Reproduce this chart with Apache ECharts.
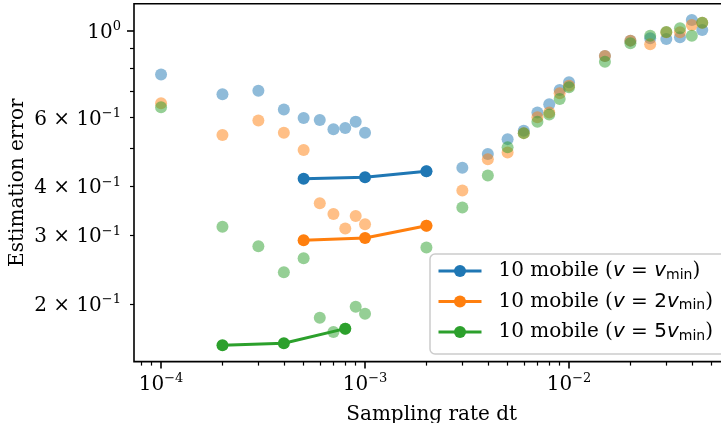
<!DOCTYPE html>
<html>
<head>
<meta charset="utf-8">
<script src="https://cdn.jsdelivr.net/npm/echarts@6/dist/echarts.min.js"></script>
<style>
html, body { margin: 0; padding: 0; background: #fff; }
#chart { width: 721px; height: 423px; }
</style>
</head>
<body>
<div id="chart"></div>
<script>
// sampling rates of the faint scatter points
var dtLight = [1e-4, 2e-4, 3e-4, 4e-4, 5e-4, 6e-4, 7e-4, 8e-4, 9e-4, 1e-3,
  2e-3, 3e-3, 4e-3, 5e-3, 6e-3, 7e-3, 8e-3, 9e-3, 1e-2,
  1.5e-2, 2e-2, 2.5e-2, 3e-2, 3.5e-2, 4e-2, 4.5e-2];
var errLightV1 = [0.772, 0.688, 0.702, 0.629, 0.598, 0.591, 0.560, 0.564, 0.585, 0.548,
  0.437, 0.446, 0.484, 0.528, 0.555, 0.618, 0.648, 0.705, 0.738,
  0.862, 0.943, 0.956, 0.952, 0.962, 1.065, 1.004];
var errLightV2 = [0.652, 0.541, 0.589, 0.548, 0.495, 0.362, 0.340, 0.312, 0.336, 0.320,
  0.317, 0.390, 0.469, 0.488, 0.547, 0.601, 0.618, 0.692, 0.723,
  0.862, 0.943, 0.923, 0.991, 0.991, 1.034, 1.048];
var errLightV5 = [0.637, 0.315, 0.281, 0.241, 0.262, 0.1845, 0.1696, 0.173, 0.1968, 0.1889,
  0.279, 0.353, 0.426, 0.503, 0.547, 0.585, 0.610, 0.669, 0.717,
  0.833, 0.929, 0.971, 0.992, 1.014, 0.971, 1.048];

// the three highlighted runs
var dtV1 = [5e-4, 1e-3, 2e-3];
var errV1 = [0.418, 0.422, 0.437];
var dtV2 = [5e-4, 1e-3, 2e-3];
var errV2 = [0.291, 0.295, 0.317];
var dtV5 = [2e-4, 4e-4, 8e-4];
var errV5 = [0.1568, 0.1587, 0.173];

var seriesNames = ['10 mobile (v = vmin)', '10 mobile (v = 2vmin)', '10 mobile (v = 5vmin)'];
var seriesFactor = ['', '2', '5'];
var colors = ['#1f77b4', '#ff7f0e', '#2ca02c'];

// tick labels
var xTickVals = [1e-4, 1e-3, 1e-2];
var xTickExp = ['\u22124', '\u22123', '\u22122'];
var yTickVals = [1, 0.6, 0.4, 0.3, 0.2];
var yTickMant = ['', '6', '4', '3', '2'];
var yTickExp = ['0', '\u22121', '\u22121', '\u22121', '\u22121'];

function pts(xs, ys) {
  return xs.map(function (x, i) { return [Math.log10(x), Math.log10(ys[i])]; });
}
function range(vals) {
  var lo = Math.min.apply(null, vals), hi = Math.max.apply(null, vals);
  var pad = (hi - lo) * 0.05;
  return [lo - pad, hi + pad];
}
function minorTicks(lo, hi) {
  var out = [];
  for (var n = -6; n <= 1; n++) {
    for (var k = 2; k <= 9; k++) {
      var v = Math.log10(k) + n;
      if (v >= lo && v <= hi) out.push(v);
    }
  }
  return out;
}
function near(v, arr) {
  for (var i = 0; i < arr.length; i++) {
    if (Math.abs(Math.log10(arr[i]) - v) < 1e-6) return i;
  }
  return -1;
}

var allX = dtLight.concat(dtV1, dtV2, dtV5).map(Math.log10);
var allY = errLightV1.concat(errLightV2, errLightV5, errV1, errV2, errV5).map(Math.log10);
var xr = range(allX), yr = range(allY);

var serif = 'DejaVu Serif';
var sans = 'DejaVu Sans';
var tickRich = {
  b: { fontFamily: serif, fontSize: 20, color: '#000', padding: [4, 0, 0, 0] },
  e: { fontFamily: serif, fontSize: 13, color: '#000', padding: [0, 0, 8, 0] }
};
var legendRich = {
  a: { fontFamily: serif, fontSize: 20, color: '#000', lineHeight: 20 },
  v: { fontFamily: sans, fontStyle: 'italic', fontSize: 20, color: '#000', lineHeight: 20 },
  m: { fontFamily: sans, fontSize: 20, color: '#000', lineHeight: 20 },
  s: { fontFamily: sans, fontSize: 14, color: '#000', padding: [8, 0, 0, 0] }
};

var lightData = [errLightV1, errLightV2, errLightV5];
var darkX = [dtV1, dtV2, dtV5];
var darkY = [errV1, errV2, errV5];

var series = [];
lightData.forEach(function (ys, i) {
  series.push({
    type: 'scatter',
    name: 'runs ' + i,
    data: pts(dtLight, ys),
    symbol: 'circle',
    symbolSize: 12,
    itemStyle: { color: colors[i], opacity: 0.5 },
    silent: true,
    z: 2
  });
});
darkX.forEach(function (xs, i) {
  series.push({
    type: 'line',
    name: seriesNames[i],
    data: pts(xs, darkY[i]),
    symbol: 'circle',
    symbolSize: 12,
    showSymbol: true,
    lineStyle: { width: 3, color: colors[i] },
    itemStyle: { color: colors[i], opacity: 1 },
    silent: true,
    z: 3
  });
});

var chart = echarts.init(document.getElementById('chart'));
chart.setOption({
  animation: false,
  backgroundColor: '#fff',
  grid: {
    left: 134, top: 3.7, width: 595.3, height: 357.9,
    containLabel: false, outerBoundsMode: 'none',
    show: true, borderColor: '#000', borderWidth: 1.6, backgroundColor: 'transparent'
  },
  xAxis: [{
    type: 'value', min: xr[0], max: xr[1], position: 'bottom',
    name: 'Sampling rate dt', nameLocation: 'middle', nameGap: 43,
    nameTextStyle: { fontFamily: serif, fontSize: 20, color: '#000' },
    axisLine: { show: false, onZero: false },
    splitLine: { show: false },
    axisTick: { show: true, length: 7, lineStyle: { color: '#000', width: 1.6 },
      customValues: xTickVals.map(Math.log10) },
    axisLabel: {
      margin: 9, customValues: xTickVals.map(Math.log10), rich: tickRich,
      formatter: function (v) {
        var i = near(v, xTickVals);
        return i < 0 ? '' : '{b|10}{e|' + xTickExp[i] + '}';
      }
    }
  }, {
    type: 'value', min: xr[0], max: xr[1], position: 'bottom',
    axisLine: { show: false, onZero: false }, splitLine: { show: false },
    axisLabel: { show: false },
    axisTick: { show: true, length: 4, lineStyle: { color: '#000', width: 1.2 },
      customValues: minorTicks(xr[0], xr[1]) }
  }],
  yAxis: [{
    type: 'value', min: yr[0], max: yr[1], position: 'left',
    name: 'Estimation error', nameLocation: 'middle', nameGap: 106, nameRotate: 90,
    nameMoveOverlap: false,
    nameTextStyle: { fontFamily: serif, fontSize: 20, color: '#000' },
    axisLine: { show: false, onZero: false },
    splitLine: { show: false },
    axisTick: { show: true, length: 7, lineStyle: { color: '#000', width: 1.6 },
      customValues: [0] },
    axisLabel: {
      margin: 13, customValues: yTickVals.map(Math.log10), rich: tickRich,
      formatter: function (v) {
        var i = near(v, yTickVals);
        if (i < 0) return '';
        var m = yTickMant[i] ? yTickMant[i] + ' \u00d7 ' : '';
        return '{b|' + m + '10}{e|' + yTickExp[i] + '}';
      }
    }
  }, {
    type: 'value', min: yr[0], max: yr[1], position: 'left',
    axisLine: { show: false, onZero: false }, splitLine: { show: false },
    axisLabel: { show: false },
    axisTick: { show: true, length: 4, lineStyle: { color: '#000', width: 1.2 },
      customValues: minorTicks(yr[0], yr[1]) }
  }],
  legend: {
    data: seriesNames,
    orient: 'vertical',
    left: 430, top: 254,
    itemWidth: 43, itemHeight: 15, itemGap: 9.5,
    padding: [7, 14, 11, 7],
    backgroundColor: 'rgba(255,255,255,0.8)',
    borderColor: '#cccccc', borderWidth: 1.5, borderRadius: 5,
    lineStyle: { width: 3 },
    textStyle: { padding: [0, 0, 0, 12], rich: legendRich },
    formatter: function (name) {
      var i = seriesNames.indexOf(name);
      return '{a|10 mobile (}{v|v}{m| = ' + seriesFactor[i] + '}{v|v}{s|min}{a|)}';
    }
  },
  series: series
});
</script>
</body>
</html>
